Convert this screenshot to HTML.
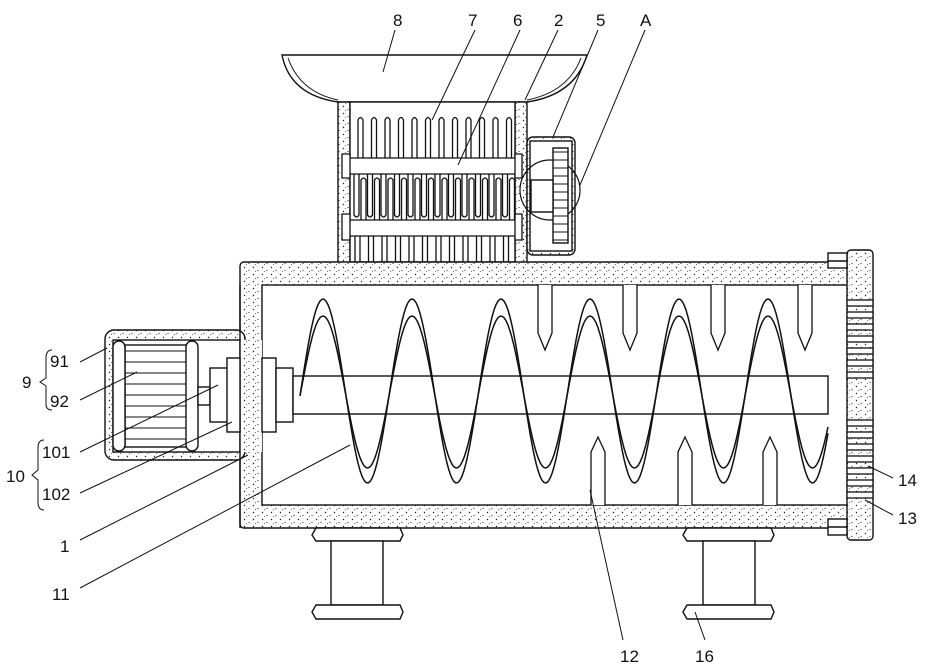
<!DOCTYPE html>
<html><head><meta charset="utf-8">
<style>
html,body{margin:0;padding:0;background:#fff;}
svg{display:block;}
text{font-family:"Liberation Sans",sans-serif;font-size:17px;fill:#111;}
</style></head>
<body>
<svg id="s" width="934" height="670" viewBox="0 0 934 670" xmlns="http://www.w3.org/2000/svg">
<defs>
<pattern id="dots" width="9" height="7" patternUnits="userSpaceOnUse">
<rect width="9" height="7" fill="#fff"/>
<circle cx="1.5" cy="1.5" r="0.7" fill="#222"/>
<circle cx="6" cy="4.5" r="0.6" fill="#333"/>
<circle cx="3.5" cy="5.5" r="0.5" fill="#444"/>
</pattern>
</defs>
<g fill="none" stroke="#111" stroke-width="1.4">
<path d="M282 55 L587 55 Q575 95 527 102 L338 102 Q290 95 282 55 Z" fill="#fff"/>
<path d="M288 58 Q300 92 338 100 M581 58 Q568 92 527 100" stroke-width="1"/>
<rect x="338" y="102" width="12" height="162" fill="url(#dots)"/>
<rect x="515" y="102" width="12" height="162" fill="url(#dots)"/>
<rect x="350" y="102" width="165" height="160" fill="#fff"/>
<rect x="527" y="137" width="48" height="118" rx="6" fill="url(#dots)"/>
<rect x="530" y="141" width="42" height="110" fill="#fff"/>
<circle cx="550" cy="190" r="30" stroke-width="1.2"/>
<rect x="553" y="148" width="15" height="95" fill="#fff"/>
<g id="gl"></g>
<rect x="531" y="180" width="22" height="32" fill="#fff"/>
<rect x="240" y="262" width="610" height="266" fill="url(#dots)" rx="4"/>
<rect x="262" y="285" width="586" height="220" fill="#fff"/>
<rect x="847" y="250" width="26" height="290" rx="4" fill="url(#dots)"/>
<rect x="828" y="253" width="19" height="15" fill="#fff"/>
<rect x="828" y="519" width="19" height="16" fill="#fff"/>
<line x1="828" y1="261" x2="847" y2="261"/><line x1="828" y1="527" x2="847" y2="527"/>
<g id="cap"></g>
<rect x="105" y="330" width="140" height="130" rx="9" fill="url(#dots)"/>
<rect x="113" y="340" width="127" height="112" fill="#fff"/>
<rect x="240" y="340" width="22" height="112" fill="url(#dots)" stroke="none"/>
<line x1="240" y1="285" x2="240" y2="528"/>
<rect x="125" y="345" width="63" height="102" fill="#fff"/>
<g id="ml"></g>
<rect x="113" y="341" width="12" height="110" rx="6" fill="#fff"/>
<rect x="186" y="341" width="12" height="110" rx="6" fill="#fff"/>
<rect x="198" y="387" width="12" height="18" fill="#fff"/>
<rect x="210" y="368" width="18" height="54" fill="#fff"/>
<rect x="227" y="358" width="13" height="74" fill="#fff"/>
<rect x="262" y="358" width="14" height="74" fill="#fff"/>
<rect x="276" y="368" width="17" height="54" fill="#fff"/>
<rect x="293" y="376" width="535" height="38" fill="#fff"/>
<g id="sp"></g>
<g id="teeth"></g>
<path d="M316 528 H400 L403 535 L400 541 H316 L312 535 Z" fill="#fff"/>
<rect x="331" y="541" width="52" height="64" fill="#fff"/>
<path d="M316 605 H400 L403 612 L400 619 H316 L312 612 Z" fill="#fff"/>
<path d="M687 528 H771 L774 535 L771 541 H687 L683 535 Z" fill="#fff"/>
<rect x="703" y="541" width="52" height="64" fill="#fff"/>
<path d="M687 605 H771 L774 612 L771 619 H687 L683 612 Z" fill="#fff"/>
<g stroke-width="1">
<line x1="395" y1="30" x2="383" y2="72"/>
<line x1="475" y1="30" x2="432" y2="120"/>
<line x1="520" y1="30" x2="458" y2="165"/>
<line x1="558" y1="30" x2="525" y2="100"/>
<line x1="598" y1="30" x2="553" y2="137"/>
<line x1="645" y1="30" x2="580" y2="185"/>
<line x1="80" y1="362" x2="107" y2="348"/>
<line x1="80" y1="400" x2="137" y2="372"/>
<line x1="80" y1="452" x2="218" y2="385"/>
<line x1="80" y1="493" x2="232" y2="422"/>
<line x1="80" y1="540" x2="248" y2="455"/>
<line x1="80" y1="588" x2="350" y2="445"/>
<line x1="623" y1="640" x2="590" y2="490"/>
<line x1="705" y1="640" x2="695" y2="612"/>
<line x1="893" y1="478" x2="868" y2="466"/>
<line x1="893" y1="515" x2="865" y2="500"/>
<path d="M52 350 Q46 350 46 358 V378 L40 382 L46 386 V404 Q46 410 52 410"/>
<path d="M44 440 Q38 440 38 448 V470 L32 475 L38 480 V502 Q38 510 44 510"/>
</g>
</g>
<g>
<text x="393" y="26">8</text><text x="468" y="26">7</text><text x="513" y="26">6</text>
<text x="554" y="26">2</text><text x="596" y="26">5</text><text x="640" y="26">A</text>
<text x="22" y="388">9</text><text x="50" y="367">91</text><text x="50" y="407">92</text>
<text x="6" y="482">10</text><text x="42" y="458">101</text><text x="42" y="500">102</text>
<text x="60" y="552">1</text><text x="52" y="600">11</text>
<text x="620" y="662">12</text><text x="695" y="662">16</text>
<text x="898" y="486">14</text><text x="898" y="524">13</text>
</g>
</svg>
<script>
const NS="http://www.w3.org/2000/svg";
function el(p,t,a){const e=document.createElementNS(NS,t);for(const k in a)e.setAttribute(k,a[k]);document.getElementById(p).appendChild(e);return e;}
const S={stroke:"#111","stroke-width":1.3,fill:"none"};
for(let i=0;i<12;i++){const x=358+i*13.5;
 el("gl","path",Object.assign({d:`M${x} 158 V120 Q${x+2.5} 115 ${x+5} 120 V158`},S));
 el("gl","path",Object.assign({d:`M${x-3} 236 V275 M${x+2} 236 V275`},S));
 el("gl","path",Object.assign({d:`M${x-4} 174 V215 Q${x-1.5} 219 ${x+1} 215 V174`},S));
 el("gl","path",Object.assign({d:`M${x+3} 220 V180 Q${x+5.5} 176 ${x+8} 180 V220`},S));
}
el("gl","path",Object.assign({d:"M350 158 H515 V174 H350 Z M350 220 H515 V236 H350 Z M342 154 H350 V178 H342 Z M342 214 H350 V240 H342 Z M515 154 H522 V178 H515 Z M515 214 H522 V240 H515 Z"},S,{fill:"#fff"}));
for(let y=152;y<243;y+=8) el("gl","line",Object.assign({x1:553,y1:y,x2:568,y2:y},S,{"stroke-width":1}));
for(let y=186;y<212;y+=6) el("gl","line",Object.assign({x1:531,y1:y,x2:553,y2:y},S,{"stroke-width":1}));
for(let y=300;y<500;y+=12){ if(y>380&&y<415)continue; el("cap","rect",Object.assign({x:847,y:y,width:26,height:6},S,{fill:"#fff"}));}
for(let y=351;y<447;y+=11) el("ml","line",Object.assign({x1:125,y1:y,x2:188,y2:y},S,{"stroke-width":1}));
function curve(off,amp){let d="";for(let x=300;x<=828;x+=2){const y=393+off-amp*Math.cos(2*Math.PI*(x-323)/89);d+=(x==300?"M":"L")+x+" "+y.toFixed(1)+" ";}return d;}
el("sp","path",Object.assign({d:curve(-2,92)},S,{"stroke-width":1.5}));
el("sp","path",Object.assign({d:curve(-1,76)},S,{"stroke-width":1.5}));
[545,630,718,805].forEach(x=>el("teeth","path",Object.assign({d:`M${x-7} 285 V333 L${x} 350 L${x+7} 333 V285`},S,{fill:"#fff"})));
[598,685,770].forEach(x=>el("teeth","path",Object.assign({d:`M${x-7} 505 V452 L${x} 437 L${x+7} 452 V505`},S,{fill:"#fff"})));
</script>
</body></html>
